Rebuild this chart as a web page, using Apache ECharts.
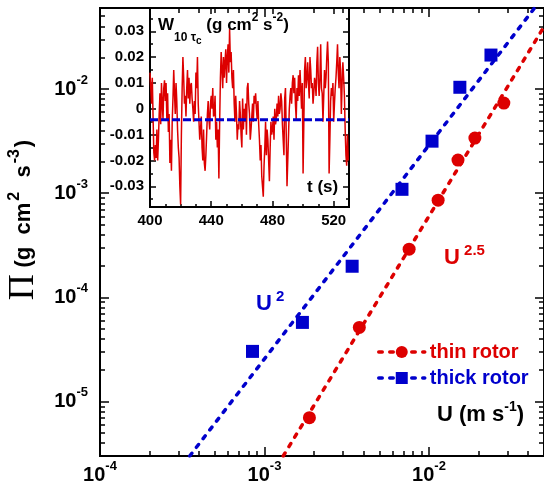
<html>
<head>
<meta charset="utf-8">
<script src="https://cdn.jsdelivr.net/npm/echarts@6/dist/echarts.min.js"></script>
<style>
  body { margin: 0; background: #fff; }
  #main { width: 544px; height: 493px; }
</style>
</head>
<body>
<div id="main"></div>
<script>
var FONT = '"Liberation Sans", Arial, sans-serif';
var RED = '#dd0000';
var BLUE = '#0000cc';

// main panel: energy flux vs velocity
var thinU = [1.875e-3, 3.77e-3, 7.57e-3, 1.136e-2, 1.50e-2, 1.90e-2, 2.85e-2];
var thinPi = [7.0e-6, 5.15e-5, 2.90e-4, 8.57e-4, 2.08e-3, 3.38e-3, 7.33e-3];
var thickU = [8.45e-4, 1.70e-3, 3.41e-3, 6.85e-3, 1.043e-2, 1.54e-2, 2.38e-2];
var thickPi = [3.03e-5, 5.75e-5, 1.99e-4, 1.09e-3, 3.16e-3, 1.04e-2, 2.12e-2];
var thinFitU = [1.30e-3, 4.91e-2];
var thinFitPi = [3.0e-6, 3.78e-2];
var thickFitU = [3.51e-4, 4.38e-2];
var thickFitPi = [3.0e-6, 6.0e-2];
var uRange = [1e-4, 0.05];
var piRange = [3e-6, 0.06];
var uDecades = [-4, -3, -2];
var piDecades = [-5, -4, -3, -2];

// inset: W signal, in 1e-3 g cm2 s-2, sampled every tStep seconds from tStart
var tStart = 400;
var tStep = 0.5;
var wSignal = [
  14, 8, 2, 12, -3, -17, -20, -14, -19, -8, -20, -12, -2, 6, -6, 10, 2, -4, 8, 11,
  3, 10, -4, 6, -9, -2, -21, -12, -24, -5, 4, 15, 6, -2, 10, 3, -8, -15, -19, -30,
  -37, -10, 8, 20, 12, 2, 5, -3, 8, 15, 4, 12, 2, 9, 10, 4, 0, -5, 3, -2,
  14, 8, 20, 2, -5, -12, -8, -3, -15, -20, -8, -21, -24, -18, -10, -2, 3, -4, -8, 2,
  5, 0, 8, -3, -2, 5, -12, -5, -15, -8, -27, -5, 12, 22, 15, 8, 20, 12, 18, 23,
  10, 20, 25, 14, 31, 18, 22, 12, 8, 15, 2, -5, 5, -2, -12, -6, -8, 3, -2, -10,
  -15, 4, -8, 0, -5, 2, -10, 8, 10, 2, -2, -12, -8, -3, 2, -5, 5, 2, 6, 0,
  -4, 3, -6, -12, -20, -14, -26, -30, -34, -22, -15, -5, -18, -8, -12, -20, -28, -15, -5, -10,
  -8, -3, -12, 0, -6, -4, 2, -3, 5, -2, 0, 6, 3, -6, -12, -18, 4, 8, -10, -30,
  -30, -10, 0, 5, 8, 2, 10, 13, 6, 12, 2, -4, 8, 3, 13, 5, 15, 8, 0, 10,
  -25, -5, 15, 20, 8, 12, 18, 10, 4, 20, 15, 8, 10, 2, 6, 12, 10, 5, 18, 24,
  10, 5, 12, 25, 8, 6, -5, 5, 15, 8, 12, 20, 26, 18, -25, -12, 3, 8, 5, 10,
  -5, 2, 8, 12, 18, 25, 14, 8, 20, 15, -2, 10, 18, 12, 5, -8, -18, -22, -10, -20
];
var wMean = -4.2;
var tRange = [400, 530];
var wRange = [-0.038, 0.039];
var tTicks = [400, 440, 480, 520];
var tMinor = [410, 420, 430, 450, 460, 470, 490, 500, 510];
var wTicks = [-0.03, -0.02, -0.01, 0, 0.01, 0.02, 0.03];
var wMinor = [-0.035, -0.025, -0.015, -0.005, 0.005, 0.015, 0.025, 0.035];

var chart = echarts.init(document.getElementById('main'));

function minorLogs(lo, hi) {
  var out = [];
  for (var n = Math.floor(lo); n <= Math.ceil(hi); n++) {
    for (var k = 2; k <= 9; k++) {
      var v = n + Math.log10(k);
      if (v > lo + 1e-9 && v < hi - 1e-9) out.push(v);
    }
  }
  return out;
}

var lu = [Math.log10(uRange[0]), Math.log10(uRange[1])];
var lp = [Math.log10(piRange[0]), Math.log10(piRange[1])];

var powRich = {
  b: { fontSize: 20, fontWeight: 'bold', fontFamily: FONT, color: '#000' },
  s: { fontSize: 13, fontWeight: 'bold', fontFamily: FONT, color: '#000', padding: [0, 0, 18, 0] }
};
function powLabel(v) {
  return '{b|10}{s|' + Math.round(v) + '}';
}

function tickAxis(gridIndex, pos, range, ticks, len, label) {
  var ax = {
    type: 'value', gridIndex: gridIndex, position: pos,
    min: range[0], max: range[1],
    axisLine: { show: false, onZero: false },
    splitLine: { show: false },
    axisTick: {
      show: true, inside: true, length: len, customValues: ticks,
      lineStyle: { color: '#000', width: 1.5 }
    },
    axisLabel: { show: false }
  };
  if (label) {
    label.customValues = ticks;
    ax.axisLabel = label;
  }
  return ax;
}

var uMinor = minorLogs(lu[0], lu[1]);
var pMinor = minorLogs(lp[0], lp[1]);

var xAxes = [
  { type: 'log', gridIndex: 0, min: uRange[0], max: uRange[1],
    axisLine: { show: false }, axisTick: { show: false },
    axisLabel: { show: false }, splitLine: { show: false } },
  tickAxis(0, 'bottom', lu, uDecades, 9, {
    margin: 4, formatter: powLabel, rich: powRich
  }),
  tickAxis(0, 'bottom', lu, uMinor, 5),
  tickAxis(0, 'top', lu, uDecades, 9),
  tickAxis(0, 'top', lu, uMinor, 5),
  tickAxis(1, 'bottom', tRange, tTicks, 6, {
    margin: 6, fontSize: 15, fontWeight: 'bold', fontFamily: FONT, color: '#000'
  }),
  tickAxis(1, 'bottom', tRange, tMinor, 3),
  tickAxis(1, 'top', tRange, tTicks, 6)
];

var yAxes = [
  { type: 'log', gridIndex: 0, min: piRange[0], max: piRange[1],
    axisLine: { show: false }, axisTick: { show: false },
    axisLabel: { show: false }, splitLine: { show: false } },
  tickAxis(0, 'left', lp, piDecades, 9, {
    margin: 12, formatter: powLabel, rich: powRich
  }),
  tickAxis(0, 'left', lp, pMinor, 5),
  tickAxis(0, 'right', lp, piDecades, 9),
  tickAxis(0, 'right', lp, pMinor, 5),
  tickAxis(1, 'left', wRange, wTicks, 6, {
    margin: 6, fontSize: 15, fontWeight: 'bold', fontFamily: FONT, color: '#000',
    formatter: function (v) { return String(v); }
  }),
  tickAxis(1, 'left', wRange, wMinor, 3),
  tickAxis(1, 'right', wRange, wTicks, 6),
  tickAxis(1, 'right', wRange, wMinor, 3)
];

// leading spacer pushes the rotated title up a little
yAxes[1].name = '{gap| }{pi|\u03a0}  {t|(g  cm}{s|2}{t|  s}{s|-3}{t|)}';
yAxes[1].nameLocation = 'middle';
yAxes[1].nameRotate = 90;
yAxes[1].nameGap = 58;
yAxes[1].nameTextStyle = {
  rich: {
    gap: { width: 24, fontSize: 10 },
    pi: { fontSize: 36, fontFamily: '"Liberation Serif", "DejaVu Serif", serif', color: '#000' },
    t: { fontSize: 22, fontWeight: 'bold', fontFamily: FONT, color: '#000' },
    s: { fontSize: 16, fontWeight: 'bold', fontFamily: FONT, color: '#000', padding: [0, 2, 18, 2] }
  }
};

function pairs(xs, ys) {
  return xs.map(function (x, i) { return [x, ys[i]]; });
}

var wData = wSignal.map(function (w, i) { return [tStart + i * tStep, w / 1000]; });
var dash = [3.5, 7.5];

var option = {
  animation: false,
  backgroundColor: '#fff',
  grid: [
    { left: 100, top: 8, right: 0, bottom: 37, show: true, borderColor: '#000', borderWidth: 2,
      backgroundColor: 'transparent', outerBoundsMode: 'none' },
    { left: 150, top: 8, width: 199, height: 199, show: true, borderColor: '#000', borderWidth: 2,
      backgroundColor: '#fff', outerBoundsMode: 'none' }
  ],
  xAxis: xAxes,
  yAxis: yAxes,
  legend: {
    orient: 'vertical', left: 372, top: 337,
    itemWidth: 46, itemHeight: 15, itemGap: 6,
    textStyle: { fontSize: 20, fontWeight: 'bold', fontFamily: FONT },
    data: [
      { name: 'thin rotor', textStyle: { color: RED },
        lineStyle: { color: RED, width: 3.5, type: dash, opacity: 1, cap: 'round' } },
      { name: 'thick rotor', textStyle: { color: BLUE },
        lineStyle: { color: BLUE, width: 3.5, type: dash, opacity: 1, cap: 'round' } }
    ]
  },
  graphic: [
    { type: 'text', left: 256, top: 289, z: 10, style: {
      text: '{b|U}{s| 2}', rich: {
        b: { fontSize: 22, fontWeight: 'bold', fontFamily: FONT, fill: BLUE },
        s: { fontSize: 15, fontWeight: 'bold', fontFamily: FONT, fill: BLUE, padding: [0, 0, 14, 0] }
      } } },
    { type: 'text', left: 444, top: 243, z: 10, style: {
      text: '{b|U}{s| 2.5}', rich: {
        b: { fontSize: 22, fontWeight: 'bold', fontFamily: FONT, fill: RED },
        s: { fontSize: 15, fontWeight: 'bold', fontFamily: FONT, fill: RED, padding: [0, 0, 14, 0] }
      } } },
    { type: 'text', left: 437, top: 400, z: 10, style: {
      text: '{b|U (m s}{s|-1}{b|)}', rich: {
        b: { fontSize: 22, fontWeight: 'bold', fontFamily: FONT, fill: '#000' },
        s: { fontSize: 14, fontWeight: 'bold', fontFamily: FONT, fill: '#000', padding: [0, 0, 16, 0] }
      } } },
    { type: 'text', left: 158, top: 12, z: 10, style: {
      text: '{b|W}{sub|10 \u03c4}{subc|c}{b| (g cm}{sup|2}{b| s}{sup|-2}{b|)}', rich: {
        b: { fontSize: 17, fontWeight: 'bold', fontFamily: FONT, fill: '#000' },
        sub: { fontSize: 12, fontWeight: 'bold', fontFamily: FONT, fill: '#000', padding: [26, 0, 0, 0] },
        subc: { fontSize: 10, fontWeight: 'bold', fontFamily: FONT, fill: '#000', padding: [32, 0, 0, 0] },
        sup: { fontSize: 12, fontWeight: 'bold', fontFamily: FONT, fill: '#000', padding: [0, 0, 14, 0] }
      } } },
    { type: 'text', left: 307, top: 179, z: 10, style: {
      text: 't (s)', fontSize: 17, fontWeight: 'bold', fontFamily: FONT, fill: '#000' } }
  ],
  series: [
    { name: 'thin fit', type: 'line', xAxisIndex: 0, yAxisIndex: 0, data: pairs(thinFitU, thinFitPi),
      symbol: 'none', lineStyle: { color: RED, width: 3.5, type: dash, cap: 'round' }, z: 2 },
    { name: 'thick fit', type: 'line', xAxisIndex: 0, yAxisIndex: 0, data: pairs(thickFitU, thickFitPi),
      symbol: 'none', lineStyle: { color: BLUE, width: 3.5, type: dash, cap: 'round' }, z: 2 },
    { name: 'thin rotor', type: 'line', xAxisIndex: 0, yAxisIndex: 0, data: pairs(thinU, thinPi),
      symbol: 'circle', symbolSize: 13, itemStyle: { color: RED },
      lineStyle: { width: 0, opacity: 0 }, z: 3 },
    { name: 'thick rotor', type: 'line', xAxisIndex: 0, yAxisIndex: 0, data: pairs(thickU, thickPi),
      symbol: 'rect', symbolSize: 13, itemStyle: { color: BLUE },
      lineStyle: { width: 0, opacity: 0 }, z: 3 },
    { name: 'W', type: 'line', xAxisIndex: 5, yAxisIndex: 5, data: wData,
      symbol: 'none', lineStyle: { color: RED, width: 1.5 }, z: 4 },
    { name: 'mean', type: 'line', xAxisIndex: 5, yAxisIndex: 5,
      data: [[tRange[0], wMean / 1000], [tRange[1], wMean / 1000]],
      symbol: 'none', lineStyle: { color: BLUE, width: 3, type: [8, 3] }, z: 5 }
  ]
};

chart.setOption(option);
</script>
</body>
</html>
